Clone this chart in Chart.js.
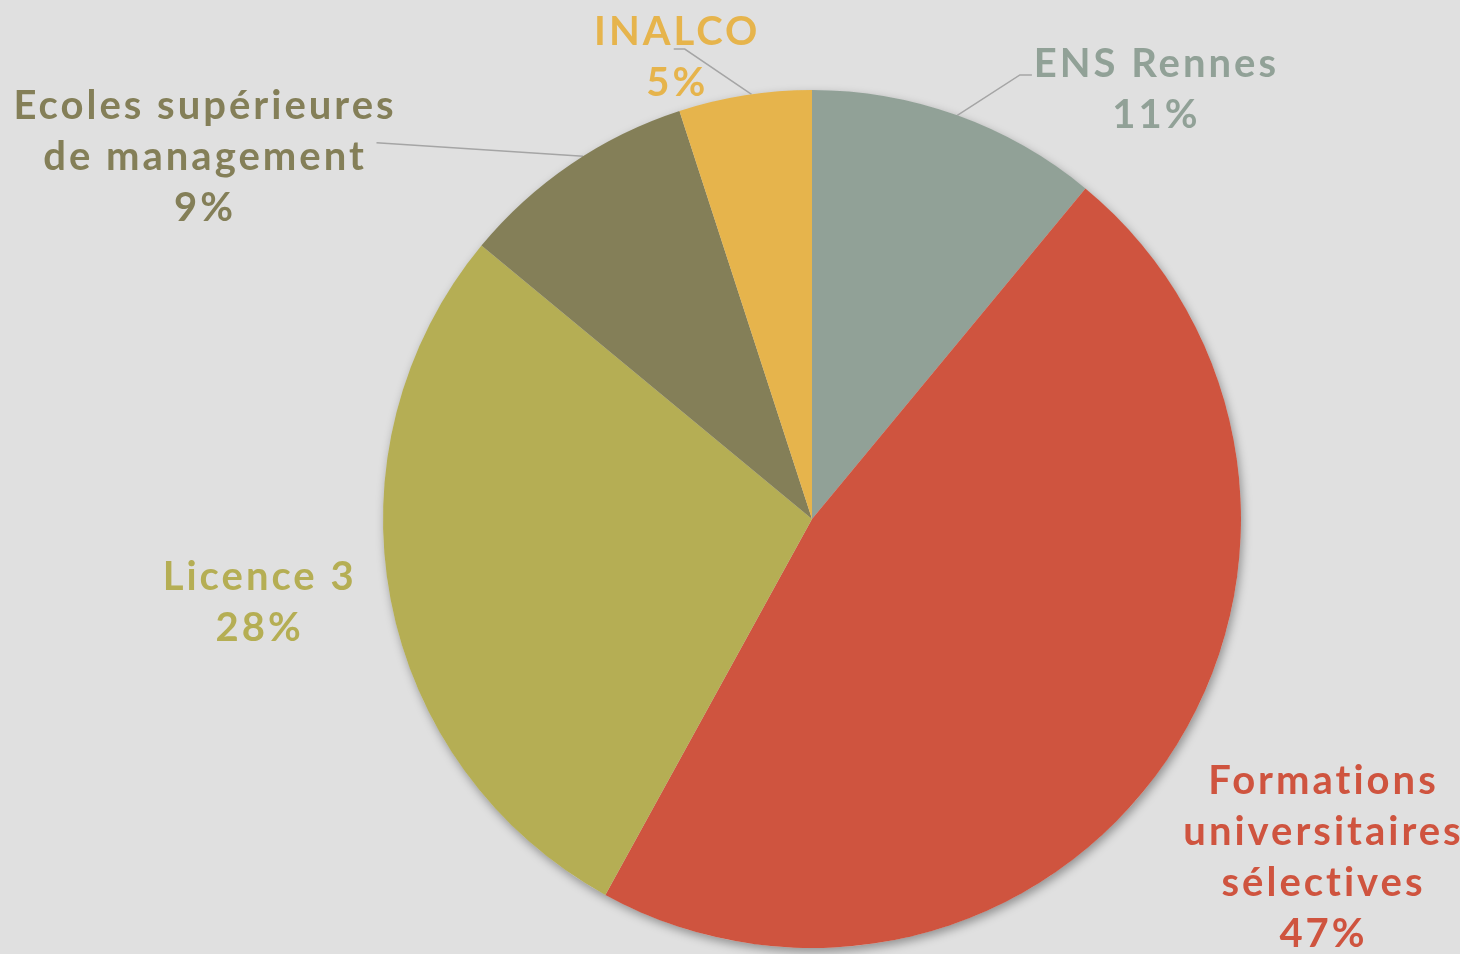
<!DOCTYPE html>
<html lang="fr">
<head>
    <meta charset="UTF-8">
    <title>Répartition des admis</title>
    <script src="https://cdn.jsdelivr.net/npm/chart.js"></script>
    <style>
        body { margin: 0; background: #e0e0e0; }
        #wrap { width: 1460px; height: 954px; }
    </style>
</head>
<body>
    <div id="wrap"><canvas id="pieChart" width="1460" height="954"></canvas></div>

    <script>
        // data, clockwise from 12 o'clock
        const categories = ['ENS Rennes', 'Formations universitaires sélectives', 'Licence 3', 'Ecoles supérieures de management', 'INALCO'];
        const shares = [11, 47, 28, 9, 5];
        const labelLines = [['ENS Rennes'], ['Formations', 'universitaires', 'sélectives'], ['Licence 3'], ['Ecoles supérieures', 'de management'], ['INALCO']];
        const percentLabels = ['11%', '47%', '28%', '9%', '5%'];
        const sliceColors = ['#91a197', '#cf543f', '#b5ae54', '#847f58', '#e6b44c'];

        // label placement: angle (deg, clockwise from top) and distance in radii
        const labelAngle = [38.5, 123.4, 261.6, 300.9, 343.6];
        const labelDist = [1.284, 1.424, 1.305, 1.653, 1.125];
        // leader lines: null = none; at = position inside slice, dx/dy = anchor from label centre, elbow = short horizontal piece
        const leaders = [
            { at: 0.5, dx: -123, dy: -13, elbow: -12 },
            null,
            null,
            { at: 0.56, dx: 173, dy: -12, elbow: 0 },
            { at: 0.55, dx: -2, dy: -7, elbow: 11 }
        ];

        const FONT = 'bold 40px Lato';
        const LINE_H = 51;

        const pieDecor = {
            id: 'pieDecor',
            beforeDatasetsDraw(chart) {
                const ctx = chart.ctx;
                const arc0 = chart.getDatasetMeta(0).data[0];
                const cx = arc0.x, cy = arc0.y, r = arc0.outerRadius;
                // soft shadow under the pie
                ctx.save();
                ctx.shadowColor = 'rgba(0,0,0,0.35)';
                ctx.shadowBlur = 10;
                ctx.shadowOffsetX = 2;
                ctx.shadowOffsetY = 4;
                ctx.fillStyle = '#d8d8d8';
                ctx.beginPath();
                ctx.arc(cx, cy, r, 0, Math.PI * 2);
                ctx.fill();
                ctx.restore();

                // leader lines
                ctx.save();
                ctx.strokeStyle = '#a5a5a5';
                ctx.lineWidth = 1.5;
                chart.getDatasetMeta(0).data.forEach((arc, i) => {
                    const ld = leaders[i];
                    if (!ld) return;
                    const a = arc.startAngle + (arc.endAngle - arc.startAngle) * ld.at;
                    const ex = cx + r * Math.cos(a), ey = cy + r * Math.sin(a);
                    const la = (labelAngle[i] - 90) * Math.PI / 180;
                    const lx = cx + r * labelDist[i] * Math.cos(la) + ld.dx;
                    const ly = cy + r * labelDist[i] * Math.sin(la) + ld.dy;
                    ctx.beginPath();
                    ctx.moveTo(lx, ly);
                    ctx.lineTo(lx + ld.elbow, ly);
                    ctx.lineTo(ex, ey);
                    ctx.stroke();
                });
                ctx.restore();
            },
            afterDatasetsDraw(chart) {
                const ctx = chart.ctx;
                const arc0 = chart.getDatasetMeta(0).data[0];
                const cx = arc0.x, cy = arc0.y, r = arc0.outerRadius;
                ctx.save();
                ctx.font = FONT;
                ctx.letterSpacing = '3px';
                ctx.textAlign = 'center';
                ctx.textBaseline = 'middle';
                categories.forEach((c, i) => {
                    const lines = labelLines[i].concat([percentLabels[i]]);
                    const la = (labelAngle[i] - 90) * Math.PI / 180;
                    const bx = cx + r * labelDist[i] * Math.cos(la);
                    const by = cy + r * labelDist[i] * Math.sin(la);
                    ctx.fillStyle = sliceColors[i];
                    lines.forEach((t, k) => {
                        ctx.fillText(t, bx + 1.5, by + 2 + (k - (lines.length - 1) / 2) * LINE_H);
                    });
                });
                ctx.restore();
            }
        };

        new Chart(document.getElementById('pieChart').getContext('2d'), {
            type: 'pie',
            data: {
                labels: categories,
                datasets: [{
                    data: shares,
                    backgroundColor: sliceColors,
                    borderWidth: 0
                }]
            },
            options: {
                responsive: false,
                animation: false,
                layout: { padding: { top: 90, bottom: 6, left: 164, right: 0 } },
                plugins: {
                    legend: { display: false },
                    tooltip: { enabled: false }
                }
            },
            plugins: [pieDecor]
        });
    </script>
</body>
</html>
